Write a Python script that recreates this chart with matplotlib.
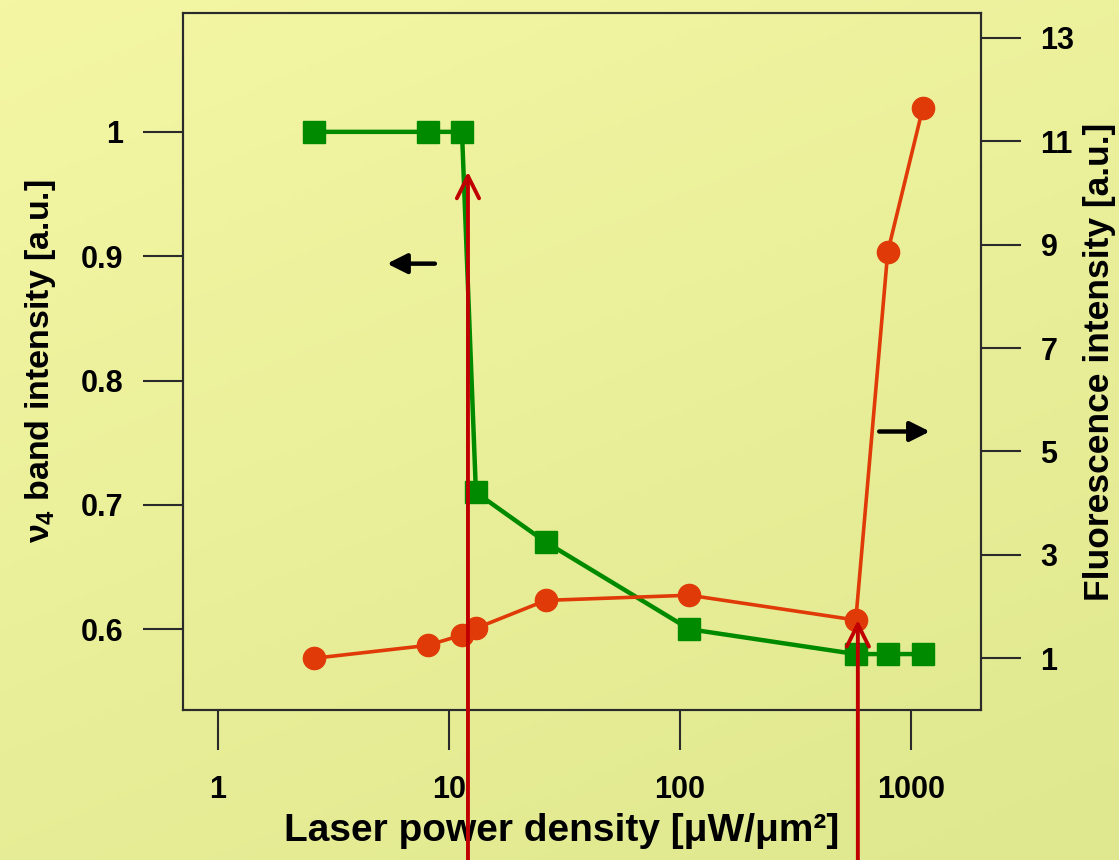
import numpy as np
import matplotlib
matplotlib.use("Agg")
import matplotlib.pyplot as plt
from matplotlib.colors import LinearSegmentedColormap

plt.rcParams['font.family'] = ['Liberation Sans', 'DejaVu Sans']
plt.rcParams['font.weight'] = 'bold'
plt.rcParams['mathtext.fontset'] = 'custom'
plt.rcParams['mathtext.rm'] = 'Liberation Sans'
plt.rcParams['mathtext.it'] = 'Liberation Sans'
plt.rcParams['mathtext.bf'] = 'Liberation Sans:bold'

# data
power = [2.6, 8.1, 11.4, 13.1, 26.3, 110, 578, 795, 1127]
band_v4 = [1.0, 1.0, 1.0, 0.71, 0.67, 0.60, 0.58, 0.58, 0.58]
fluor = [1.0, 1.25, 1.45, 1.58, 2.12, 2.22, 1.74, 8.86, 11.64]

xticks = [1, 10, 100, 1000]
left_ticks = [0.6, 0.7, 0.8, 0.9, 1.0]
left_labels = ['0.6', '0.7', '0.8', '0.9', '1']
right_ticks = [1, 3, 5, 7, 9, 11, 13]

# red markers pointing up from the bottom (x, tip on fluorescence axis)
red_arrow_x = [12.1, 590]
red_arrow_tip = [10.41, 1.74]

fig = plt.figure(figsize=(11.19, 8.6), dpi=100)

# yellow-green gradient background
bg = fig.add_axes([0, 0, 1, 1], zorder=-10)
cmap = LinearSegmentedColormap.from_list('bg', ['#f4f6a4', '#dfe88e'])
yy, xx = np.mgrid[0:1:200j, 0:1:200j]
bg.imshow(0.35 * xx + 0.65 * yy, cmap=cmap, aspect='auto', extent=[0, 1, 0, 1])
bg.axis('off')

ax = fig.add_axes([0.1635, 0.1744, 0.713, 0.8105])
ax.set_facecolor('none')
ax2 = ax.twinx()

ax.plot(power, band_v4, color='#008a00', lw=3.2, marker='s', ms=16, zorder=3)
ax2.plot(power, fluor, color='#e03a08', lw=2.6, marker='o', ms=16, zorder=3)

ax.set_xscale('log')
ax.set_xlim(0.706, 2010)
ax.set_ylim(0.535, 1.0956)
ax2.set_ylim(0.0, 13.48)

ax.set_xticks(xticks)
ax.set_xticklabels([str(t) for t in xticks])
ax.xaxis.set_minor_locator(matplotlib.ticker.NullLocator())
ax.set_yticks(left_ticks)
ax.set_yticklabels(left_labels)
ax2.set_yticks(right_ticks)
ax2.set_yticklabels([str(t) for t in right_ticks])

for a in (ax, ax2):
    for s in a.spines.values():
        s.set_color('#2a2a2a')
        s.set_linewidth(1.5)
ax.tick_params(axis='both', direction='out', length=29, width=1.5, color='#2a2a2a',
               labelsize=22, pad=14)
ax.tick_params(axis='x', pad=18)
ax.tick_params(axis='y', right=False)
ax2.tick_params(axis='y', direction='out', length=29, width=1.5, color='#2a2a2a',
                labelsize=22, pad=14)

ax.set_xlabel('Laser power density [μW/μm²]', fontsize=28, fontweight='bold')
ax.xaxis.set_label_coords(0.475, -0.148)
ax.set_ylabel(r'$\nu_4$ band intensity [a.u.]', fontsize=24.5, fontweight='bold', labelpad=16)
ax2.set_ylabel('Fluorescence intensity [a.u.]', fontsize=25.5, fontweight='bold', labelpad=6)

# black direction arrows
ax.annotate('', xy=(5.4, 0.894), xytext=(8.7, 0.894),
            arrowprops=dict(arrowstyle='-|>', lw=3.2, color='black', mutation_scale=30,
                            shrinkA=0, shrinkB=0))
ax.annotate('', xy=(1210, 0.759), xytext=(730, 0.759),
            arrowprops=dict(arrowstyle='-|>', lw=3.2, color='black', mutation_scale=30,
                            shrinkA=0, shrinkB=0))

# red vertical arrows from the bottom edge of the figure
for xa, ya in zip(red_arrow_x, red_arrow_tip):
    ax2.annotate('', xy=(xa, ya), xycoords='data',
                 xytext=(xa, 0), textcoords=('data', 'figure fraction'),
                 arrowprops=dict(arrowstyle='->', lw=2.8, color='#c00000', mutation_scale=40,
                                 shrinkA=0, shrinkB=0),
                 annotation_clip=False, zorder=10)

fig.savefig('out.png', dpi=100)
